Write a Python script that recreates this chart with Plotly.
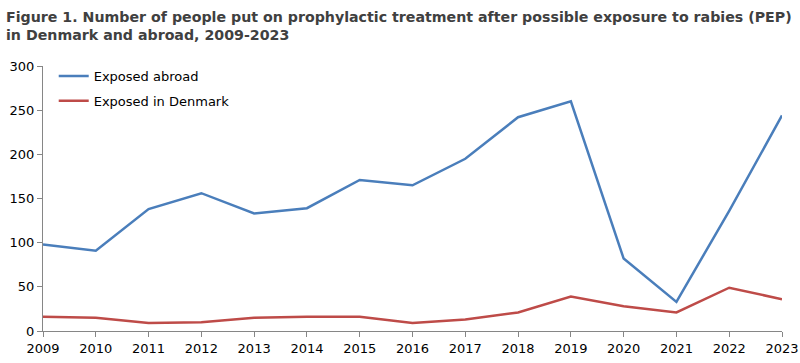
import plotly.graph_objects as go

years = list(range(2009, 2024))
abroad = [98, 91, 138, 156, 133, 139, 171, 165, 195, 242, 260, 82, 33, 136, 244]
denmark = [16, 15, 9, 10, 15, 16, 16, 9, 13, 21, 39, 28, 21, 49, 36]
y_ticks = [0, 50, 100, 150, 200, 250, 300]

fig = go.Figure()
fig.add_trace(go.Scatter(x=years, y=abroad, mode="lines", name="Exposed abroad",
                         legendgroup="a", line=dict(color="#4A7EBB", width=2.5)))
fig.add_trace(go.Scatter(x=years, y=denmark, mode="lines", name="Exposed in Denmark",
                         legendgroup="d", line=dict(color="#BE4B48", width=2.5)))

font_family = "'DejaVu Sans', sans-serif"
L, R, T, B = 43, 18, 66, 32
pw = 800 - L - R
ph = 363 - T - B

fig.add_annotation(
    text="<b>Figure 1. Number of people put on prophylactic treatment after possible exposure to rabies (PEP)<br>in Denmark and abroad, 2009-2023</b>",
    xref="paper", yref="paper", x=-(L - 4) / pw, y=1 + (T - 7) / ph,
    xanchor="left", yanchor="top", align="left", showarrow=False,
    font=dict(size=14.2, color="#404040", family=font_family))

fig.update_layout(
    width=800, height=363,
    margin=dict(l=L, r=R, t=T, b=B, autoexpand=False),
    paper_bgcolor="white", plot_bgcolor="white",
    font=dict(family=font_family, size=13, color="#000000"),
    showlegend=True,
    legend=dict(x=0.0145, y=1.019, xanchor="left", yanchor="top", bgcolor="rgba(0,0,0,0)",
                font=dict(size=13, color="#000000"), traceorder="grouped",
                tracegroupgap=5, itemwidth=30),
    xaxis=dict(range=[2009, 2023], tickmode="array", tickvals=years,
               ticktext=[str(y) for y in years], showgrid=False, zeroline=False,
               showline=True, linecolor="#868686", linewidth=1, automargin=False,
               ticks="outside", ticklen=5, tickcolor="#868686"),
    yaxis=dict(range=[0, 300], tickmode="array", tickvals=y_ticks, showgrid=False,
               zeroline=False, showline=True, linecolor="#868686", linewidth=1,
               automargin=False, ticks="outside", ticklen=5, tickcolor="#868686"),
)
fig.write_html("out.html", config={"displayModeBar": False},
               post_script="document.body.style.margin='0';")
